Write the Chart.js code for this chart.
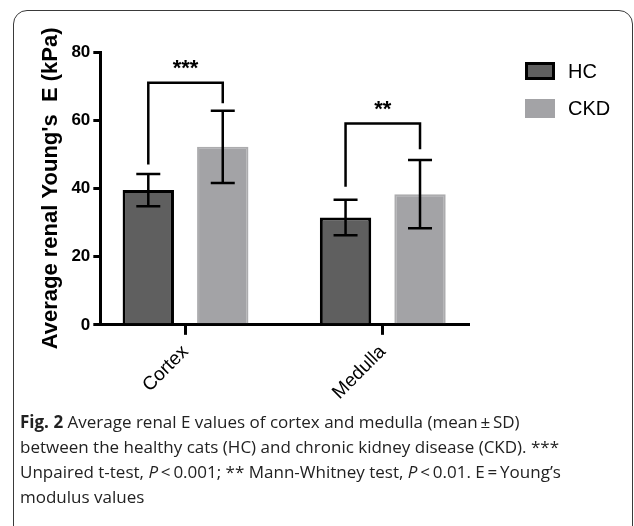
<!DOCTYPE html>
<html>
<head>
<meta charset="utf-8">
<script src="https://cdn.jsdelivr.net/npm/chart.js@4.4.0/dist/chart.umd.min.js"></script>
<style>
html, body { margin: 0; padding: 0; background: #fff; overflow: hidden; }
#page { position: relative; width: 634px; height: 526px; overflow: hidden; }
#frame { position: absolute; left: 13px; top: 10px; width: 620px; height: 600px; border: 1.5px solid #3a3a3a; border-radius: 14px; box-sizing: border-box; }
#wrap { position: absolute; left: 0; top: 0; width: 634px; height: 410px; }
#caption { position: absolute; left: 20px; top: 409px; font-family: 'Open Sans', sans-serif; font-size: 17px; line-height: 25px; color: #222; white-space: nowrap; }
#caption b { font-weight: 700; }
</style>
</head>
<body>
<div id="page">
  <div id="frame"></div>
  <div id="wrap"><canvas id="chartBar" width="634" height="410"></canvas></div>
  <div id="caption">
    <b>Fig. 2</b> Average renal E values of cortex and medulla (mean&thinsp;±&thinsp;SD)<br>
    between the healthy cats (HC) and chronic kidney disease (CKD). ***<br>
    Unpaired t-test, <i>P</i>&thinsp;&lt;&thinsp;0.001; ** Mann-Whitney test, <i>P</i>&thinsp;&lt;&thinsp;0.01. E&thinsp;=&thinsp;Young’s<br>
    modulus values
  </div>
</div>
<script>
// data
var categories = ['Cortex', 'Medulla'];
var hcMean = [39.5, 31.5];
var hcSD = [4.7, 5.2];
var ckdMean = [52.2, 38.3];
var ckdSD = [10.6, 10.0];
var yTicks = [0, 20, 40, 60, 80];

// significance brackets (top and leg ends, in kPa)
var bracketTop = [71, 59];
var bracketLeft = [47, 40.5];
var bracketRight = [65, 51.5];
var stars = ['***', '**'];

var hcColor = '#5f5f5f';
var ckdColor = '#a3a3a6';
// room left of the first and right of the last category, in category units
var xPad = 0.432;

Chart.defaults.font.family = 'Liberation Sans, Arial, sans-serif';
Chart.defaults.color = '#000';

// error bars, brackets and legend
var extras = {
  id: 'extras',
  afterDatasetsDraw: function(chart) {
    var ctx = chart.ctx;
    var y = chart.scales.y;
    var sdList = [hcSD, ckdSD];
    ctx.save();
    ctx.strokeStyle = '#000';
    ctx.lineWidth = 2.5;
    chart.data.datasets.forEach(function(ds, i) {
      chart.getDatasetMeta(i).data.forEach(function(bar, j) {
        var m = ds.data[j], sd = sdList[i][j];
        var hi = y.getPixelForValue(m + sd), lo = y.getPixelForValue(m - sd);
        ctx.beginPath();
        ctx.moveTo(bar.x, hi); ctx.lineTo(bar.x, lo);
        ctx.moveTo(bar.x - 12, hi); ctx.lineTo(bar.x + 12, hi);
        ctx.moveTo(bar.x - 12, lo); ctx.lineTo(bar.x + 12, lo);
        ctx.stroke();
      });
    });

    var hcBars = chart.getDatasetMeta(0).data;
    var ckdBars = chart.getDatasetMeta(1).data;
    for (var j = 0; j < categories.length; j++) {
      var l = hcBars[j].x, r = ckdBars[j].x;
      var t = y.getPixelForValue(bracketTop[j]);
      ctx.beginPath();
      ctx.moveTo(l, y.getPixelForValue(bracketLeft[j]));
      ctx.lineTo(l, t);
      ctx.lineTo(r, t);
      ctx.lineTo(r, y.getPixelForValue(bracketRight[j]));
      ctx.stroke();
      ctx.fillStyle = '#000';
      ctx.font = 'bold 22px Liberation Sans, Arial, sans-serif';
      ctx.textAlign = 'center';
      ctx.textBaseline = 'middle';
      ctx.fillText(stars[j], (l + r) / 2, t - 14);
    }

    // legend
    var lx = chart.chartArea.right + 57;
    var ly = chart.chartArea.top + 10;
    ctx.fillStyle = hcColor;
    ctx.fillRect(lx, ly, 30, 18);
    ctx.lineWidth = 3;
    ctx.strokeRect(lx + 1.5, ly + 1.5, 27, 15);
    ctx.fillStyle = ckdColor;
    ctx.fillRect(lx, ly + 37, 30, 19);
    ctx.fillStyle = '#000';
    ctx.font = '20px Liberation Sans, Arial, sans-serif';
    ctx.textAlign = 'left';
    ctx.textBaseline = 'middle';
    ctx.fillText(chart.data.datasets[0].label, lx + 43, ly + 10);
    ctx.fillText(chart.data.datasets[1].label, lx + 43, ly + 47);
    ctx.restore();
  }
};

var ctx = document.getElementById('chartBar');

var chartBar = new Chart(ctx, {
  type: 'bar',
  data: {
    labels: categories,
    datasets: [{
      label: 'HC',
      data: hcMean,
      backgroundColor: hcColor,
      borderColor: '#000',
      borderWidth: 3
    }, {
      label: 'CKD',
      data: ckdMean,
      backgroundColor: ckdColor,
      borderColor: '#acacae',
      borderWidth: 2
    }]
  },
  options: {
    responsive: false,
    animation: false,
    devicePixelRatio: 1,
    layout: { padding: { left: 34, right: 166, top: 52, bottom: 0 } },
    plugins: { legend: { display: false }, tooltip: { enabled: false } },
    datasets: { bar: { barPercentage: 0.69, categoryPercentage: 0.755 } },
    scales: {
      x: {
        offset: false,
        afterBuildTicks: function(axis) {
          // widen the category range so the axis runs past both groups
          axis._startValue = -xPad;
          axis._valueRange = categories.length - 1 + 2 * xPad;
        },
        grid: { display: true, offset: false, drawOnChartArea: false, drawTicks: true, tickLength: 10, color: '#000', lineWidth: 3 },
        border: { display: true, color: '#000', width: 3 },
        ticks: { minRotation: 45, maxRotation: 45, font: { size: 19 }, padding: 6 }
      },
      y: {
        min: 0,
        max: 80,
        afterBuildTicks: function(axis) {
          axis.ticks = yTicks.map(function(v) { return { value: v }; });
        },
        grid: { display: true, drawOnChartArea: false, drawTicks: true, tickLength: 7, color: '#000', lineWidth: 3 },
        border: { display: true, color: '#000', width: 3 },
        ticks: { font: { size: 17, weight: 'bold' }, padding: 3 },
        title: { display: true, text: 'Average renal Young\'s  E (kPa)', font: { size: 22, weight: 'bold' }, padding: 4 }
      }
    }
  },
  plugins: [extras]
});
</script>
</body>
</html>
